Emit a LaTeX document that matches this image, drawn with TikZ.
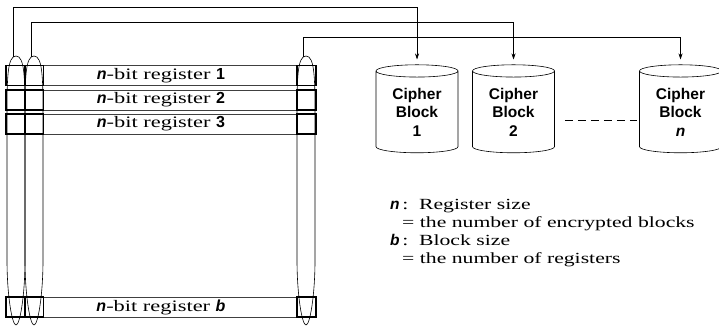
\documentclass[tikz,border=0pt]{standalone}
\usepackage{fontspec}
\setmainfont[FakeStretch=1.4]{Liberation Serif}
\setsansfont{Liberation Sans}
\usetikzlibrary{shapes.geometric,arrows.meta}
\newcommand{\var}[1]{\textsf{\bfseries\itshape #1}}

\begin{document}
\begin{tikzpicture}[x=1pt,y=-1pt,
	reg/.style={draw=black!75,line width=0.6pt,minimum width=310pt,minimum height=20pt,inner sep=0pt,font=\fontsize{16}{18}\selectfont},
	cell/.style={draw,line width=1.6pt,minimum width=19pt,minimum height=20pt,inner sep=0pt},
	blk/.style={cylinder,shape border rotate=90,draw,line width=0.6pt,aspect=0.25,minimum width=82pt,minimum height=88pt,inner sep=0pt,align=center,font=\fontsize{15.5}{18.5}\sffamily\bfseries},
	link/.style={line width=0.6pt,-{Stealth[length=6pt,width=4pt]},shorten >=5pt},
	key/.style={anchor=base west,inner sep=0pt,font=\fontsize{15.5}{18}\selectfont}]
		\useasboundingbox (0,0) rectangle (719,327);
		% registers with their end cells
		\foreach \nm/\y/\lbl in {1/75.5/1,2/100/2,3/124/3,b/307/\var{b}} {
			\node[reg] (reg\nm) at (161,\y) {\var{n}-bit register \textsf{\bfseries\lbl}};
			\node[cell] (cella\nm) at (15.5,\y) {};
			\node[cell] (cellb\nm) at (34,\y) {};
			\node[cell] (cellc\nm) at (306.5,\y) {};
		}
		% lenses across the columns
		\foreach \nm/\cx in {a/16,b/34,c/306} {
			\draw[line width=0.6pt] (\cx,56) .. controls (\cx+9,56) and (\cx+9,80) .. (\cx+9,120) -- (\cx+9,260) .. controls (\cx+9,295) and (\cx+4,325) .. (\cx,325) .. controls (\cx-4,325) and (\cx-9,295) .. (\cx-9,260) -- (\cx-9,120) .. controls (\cx-9,80) and (\cx-9,56) .. (\cx,56) -- cycle;
			\coordinate (tip\nm) at (\cx-3,57);
		}
		% cipher blocks
		\node[blk] (cb1) at (417,112) {Cipher\\Block\\1};
		\node[blk] (cb2) at (513.5,112) {Cipher\\Block\\2};
		\node[blk] (cbn) at (680.5,112) {Cipher\\Block\\\var{n}};
		\draw[line width=0.6pt,dash pattern=on 8pt off 5pt] (cb2.east) ++(10,8) -- ++(72,0);
		\draw[link] (tipa) -- ++(0,-50) -| (cb1.north);
		\draw[link] (tipb) -- ++(0,-35) -| (cb2.north);
		\draw[link] (tipc) -- ++(0,-20) -| (cbn.north);
		% legend
		\node[key] (keyn) at (390,209) {\var{n}\,:\ \ Register size};
		\node[key] (keyndef) at (402,227) {= the number of encrypted blocks};
		\node[key] (keyb) at (390,245) {\var{b}\,:\ \ Block size};
		\node[key] (keybdef) at (402,263) {= the number of registers};
\end{tikzpicture}
\end{document}
